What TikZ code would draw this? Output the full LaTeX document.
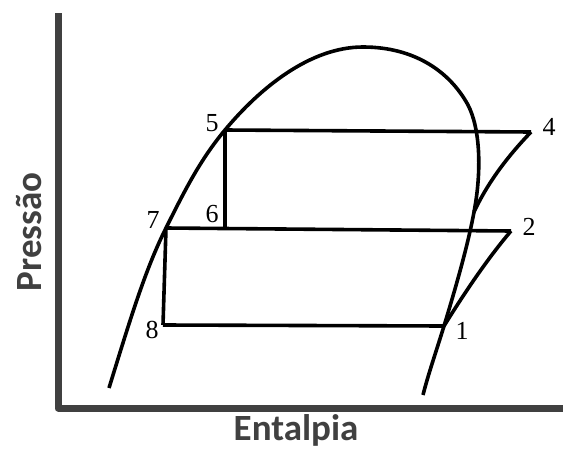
\documentclass[tikz,border=0pt]{standalone}
\usepackage{fontspec}
\setmainfont{Liberation Serif}
\newfontfamily\axisfont{Carlito}
\definecolor{axisgray}{HTML}{404040}
\begin{document}
\begin{tikzpicture}[x=1pt,y=-1pt,line width=3.6pt,line join=round,
  ptlabel/.style={inner sep=0pt,font=\fontsize{26}{26}\selectfont},
  axislabel/.style={inner sep=0pt,text=axisgray,font=\axisfont\bfseries\fontsize{37}{37}\selectfont}]
 \useasboundingbox (0,0) rectangle (563,450);
 % axes
 \coordinate (o) at (58,408);
 \coordinate (ytop) at (58,13);
 \coordinate (xend) at (570,408);
 \draw[axisgray,line width=7pt] (ytop)--(o)--(xend);
 \node[axislabel,rotate=90] (pres) at (29,232) {Pressão};
 \node[axislabel,anchor=base] (ent) at (296,440) {Entalpia};
 % cycle points
 \coordinate (p1) at (444,326);
 \coordinate (p2) at (511,231);
 \coordinate (p3) at (474,212);
 \coordinate (p4) at (531,132);
 \coordinate (p5) at (225,130);
 \coordinate (p6) at (225,229);
 \coordinate (p7) at (166,228);
 \coordinate (p8) at (163,325);
 \coordinate (top) at (363,47);
 \coordinate (bend) at (468,105);
 % saturation dome
 \draw (109,388) .. controls (130,320) and (145,270) .. (p7)
   .. controls (185,190) and (200,160) .. (p5)
   .. controls (260,88) and (310,47) .. (top)
   .. controls (415,47) and (450,72) .. (bend)
   .. controls (480,128) and (482,170) .. (p3)
   .. controls (468,245) and (455,290) .. (p1)
   .. controls (436,352) and (428,375) .. (423,395);
 % cycle
 \draw (p5)--(p4);
 \draw (p7)--(p2);
 \draw (p8)--(p1);
 \draw (p5)--(p6);
 \draw (p7)--(p8);
 \draw (p1) .. controls (465,292) and (488,258) .. (p2);
 \draw (p3) .. controls (488,182) and (508,156) .. (p4);
 % labels
 \node[ptlabel] (l1) at (462,331) {1};
 \node[ptlabel] (l2) at (529,227) {2};
 \node[ptlabel] (l4) at (549,127) {4};
 \node[ptlabel] (l5) at (212,123) {5};
 \node[ptlabel] (l6) at (212,214) {6};
 \node[ptlabel] (l7) at (153,220) {7};
 \node[ptlabel] (l8) at (152,330) {8};
\end{tikzpicture}
\end{document}
